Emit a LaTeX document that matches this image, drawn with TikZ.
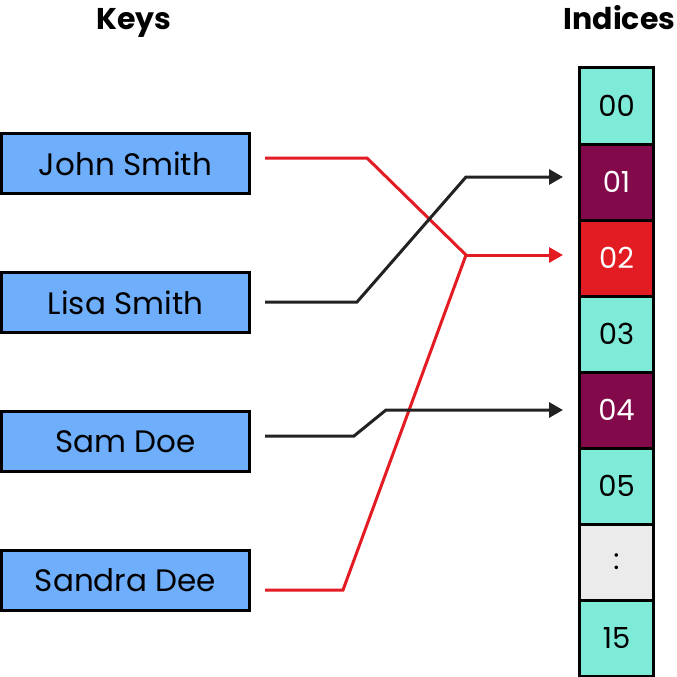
\documentclass[tikz,border=0pt]{standalone}
\usepackage{fontspec}
\setmainfont{Poppins}
\usetikzlibrary{arrows.meta,calc}
\definecolor{keyblue}{HTML}{6FAEFB}
\definecolor{teal}{HTML}{7EEAD8}
\definecolor{plum}{HTML}{820A4B}
\definecolor{hred}{HTML}{E31B23}
\definecolor{lgray}{HTML}{EBEBEB}
\definecolor{dark}{HTML}{222222}
\begin{document}
\begin{tikzpicture}[x=1pt,y=-1pt,
  keybox/.style={draw=black,line width=3pt,fill=keyblue,minimum width=248pt,minimum height=60pt,inner sep=0pt,font=\fontsize{31}{36}\selectfont},
  cell/.style={draw=black,line width=3pt,minimum width=74pt,minimum height=76pt,inner sep=0pt,font=\fontsize{29}{34}\selectfont},
  title/.style={anchor=base,font=\fontsize{30}{36}\selectfont\bfseries},
  conn/.style={line width=3pt,line join=miter},
  arr/.style={conn,-{Triangle[length=14pt,width=15pt]}}]
\useasboundingbox (0,0) rectangle (677,677);
\node[title] (tk) at (134,30) {Keys};
\node[title] (ti) at (619.5,30) {Indices};
\node[keybox] (john) at (125.5,163.5) {John Smith};
\node[keybox] (lisa) at (125.5,302.5) {Lisa Smith};
\node[keybox] (sam) at (125.5,441.5) {Sam Doe};
\node[keybox] (sandra) at (125.5,580.5) {Sandra Dee};
\node[cell,fill=teal] (c00) at (616.5,106) {00};
\node[cell,fill=plum,text=white] (c01) at (616.5,182) {01};
\node[cell,fill=hred,text=white] (c02) at (616.5,258) {02};
\node[cell,fill=teal] (c03) at (616.5,334) {03};
\node[cell,fill=plum,text=white] (c04) at (616.5,410) {04};
\node[cell,fill=teal] (c05) at (616.5,486) {05};
\node[cell,fill=lgray] (cdots) at (616.5,562) {:};
\node[cell,fill=teal] (c15) at (616.5,638) {15};
\coordinate (hub) at (466,255);
\draw[conn,draw=hred] ([xshift=14pt,yshift=5.5pt]john.east) -- ++(102,0) -- (hub);
\draw[conn,draw=hred] ([xshift=14pt,yshift=-9.5pt]sandra.east) -- ++(78,0) -- (hub);
\draw[arr,draw=hred] (hub) -- ([xshift=-15pt,yshift=3pt]c02.west);
\draw[arr,draw=dark] ([xshift=14pt,yshift=0.5pt]lisa.east) -- ++(92,0) -- (466,177) -- ([xshift=-15pt,yshift=5pt]c01.west);
\draw[arr,draw=dark] ([xshift=14pt,yshift=5.5pt]sam.east) -- ++(89,0) -- (386,410) -- ([xshift=-15pt]c04.west);
\end{tikzpicture}
\end{document}
